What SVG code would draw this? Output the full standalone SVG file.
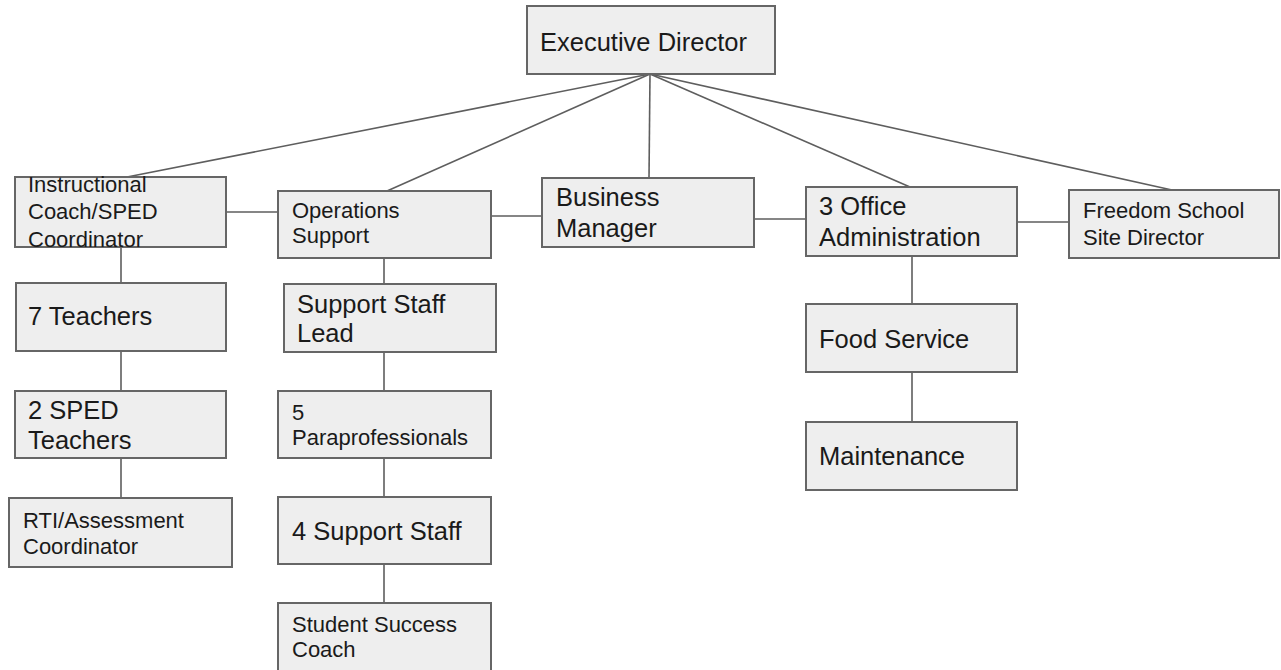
<svg xmlns="http://www.w3.org/2000/svg" width="1281" height="670" viewBox="0 0 1281 670">
  <style>
    .box { fill: #eeeeee; stroke: #666666; stroke-width: 2; }
    .lbl { font-family: "Liberation Sans", Arial, sans-serif; fill: #1a1a1a; }
    .lg { font-size: 25.5px; }
    .sm { font-size: 22px; }
    .conn line { stroke: #5e5e5e; stroke-width: 1.6; }
  </style>
  <rect width="1281" height="670" fill="#ffffff"/>

  <!-- connectors -->
  <g id="connectors" class="conn">
    <line x1="650" y1="74" x2="127" y2="177"/>
    <line x1="650" y1="74" x2="387" y2="191"/>
    <line x1="650" y1="74" x2="649" y2="178"/>
    <line x1="650" y1="74" x2="910" y2="187"/>
    <line x1="650" y1="74" x2="1172" y2="190"/>
    <line x1="226" y1="212" x2="278" y2="212"/>
    <line x1="491" y1="216" x2="542" y2="216"/>
    <line x1="754" y1="219" x2="806" y2="219"/>
    <line x1="1017" y1="222" x2="1069" y2="222"/>
    <line x1="121" y1="247" x2="121" y2="283"/>
    <line x1="121" y1="351" x2="121" y2="391"/>
    <line x1="121" y1="458" x2="121" y2="498"/>
    <line x1="384" y1="258" x2="384" y2="284"/>
    <line x1="384" y1="352" x2="384" y2="391"/>
    <line x1="384" y1="458" x2="384" y2="497"/>
    <line x1="384" y1="564" x2="384" y2="603"/>
    <line x1="912" y1="256" x2="912" y2="304"/>
    <line x1="912" y1="372" x2="912" y2="422"/>
  </g>

  <g id="executive-director">
    <rect class="box" x="527" y="6" width="248" height="68"/>
    <text class="lbl lg" x="540" y="51">Executive Director</text>
  </g>

  <g id="instructional-coach">
    <rect class="box" x="15" y="177" width="211" height="70"/>
    <text class="lbl sm" x="28" y="192">Instructional</text>
    <text class="lbl sm" x="28" y="219">Coach/SPED</text>
    <text class="lbl sm" x="28" y="247">Coordinator</text>
  </g>

  <g id="operations-support">
    <rect class="box" x="278" y="191" width="213" height="67"/>
    <text class="lbl sm" x="292" y="218">Operations</text>
    <text class="lbl sm" x="292" y="243">Support</text>
  </g>

  <g id="business-manager">
    <rect class="box" x="542" y="178" width="212" height="69"/>
    <text class="lbl lg" x="556" y="206">Business</text>
    <text class="lbl lg" x="556" y="237">Manager</text>
  </g>

  <g id="office-administration">
    <rect class="box" x="806" y="187" width="211" height="69"/>
    <text class="lbl lg" x="819" y="215">3 Office</text>
    <text class="lbl lg" x="819" y="246">Administration</text>
  </g>

  <g id="freedom-school">
    <rect class="box" x="1069" y="190" width="210" height="68"/>
    <text class="lbl sm" x="1083" y="218">Freedom School</text>
    <text class="lbl sm" x="1083" y="245">Site Director</text>
  </g>

  <g id="teachers">
    <rect class="box" x="16" y="283" width="210" height="68"/>
    <text class="lbl lg" x="28" y="325">7 Teachers</text>
  </g>

  <g id="sped-teachers">
    <rect class="box" x="15" y="391" width="211" height="67"/>
    <text class="lbl lg" x="28" y="419">2 SPED</text>
    <text class="lbl lg" x="28" y="449">Teachers</text>
  </g>

  <g id="rti-coordinator">
    <rect class="box" x="9" y="498" width="223" height="69"/>
    <text class="lbl sm" x="23" y="528">RTI/Assessment</text>
    <text class="lbl sm" x="23" y="554">Coordinator</text>
  </g>

  <g id="support-staff-lead">
    <rect class="box" x="284" y="284" width="212" height="68"/>
    <text class="lbl lg" x="297" y="313">Support Staff</text>
    <text class="lbl lg" x="297" y="342">Lead</text>
  </g>

  <g id="paraprofessionals">
    <rect class="box" x="278" y="391" width="213" height="67"/>
    <text class="lbl sm" x="292" y="420">5</text>
    <text class="lbl sm" x="292" y="445">Paraprofessionals</text>
  </g>

  <g id="support-staff">
    <rect class="box" x="278" y="497" width="213" height="67"/>
    <text class="lbl lg" x="292" y="540">4 Support Staff</text>
  </g>

  <g id="student-success-coach">
    <rect class="box" x="278" y="603" width="213" height="80"/>
    <text class="lbl sm" x="292" y="632">Student Success</text>
    <text class="lbl sm" x="292" y="657">Coach</text>
  </g>

  <g id="food-service">
    <rect class="box" x="806" y="304" width="211" height="68"/>
    <text class="lbl lg" x="819" y="348">Food Service</text>
  </g>

  <g id="maintenance">
    <rect class="box" x="806" y="422" width="211" height="68"/>
    <text class="lbl lg" x="819" y="465">Maintenance</text>
  </g>
</svg>
